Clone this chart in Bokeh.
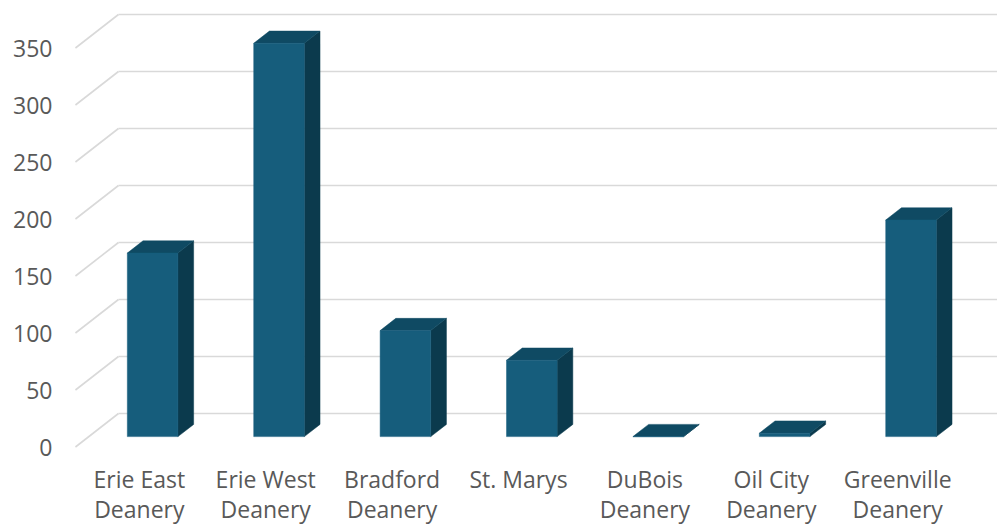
from bokeh.plotting import figure
from bokeh.models import Range1d, FixedTicker
from bokeh.core.properties import value
from bokeh.embed import file_html
from bokeh.resources import INLINE

# Data
deaneries = ["Erie East\nDeanery", "Erie West\nDeanery", "Bradford\nDeanery", "St. Marys",
             "DuBois\nDeanery", "Oil City\nDeanery", "Greenville\nDeanery"]
counts = [161, 345, 93, 67, 0, 3, 190]
y_ticks = [0, 50, 100, 150, 200, 250, 300, 350]

# Style
FONT = "Open Sans"
TEXT = "#595959"
GRID = "#d9d9d9"
FRONT = "#165d7c"
TOP = "#0f4a63"
SIDE = "#0b3a4d"

W, H = 997, 527
LEFT = 60                 # width reserved for the value axis
PX_X = 126.4              # pixels per category
PX_Y = 1.14               # pixels per unit of value
ZERO_PX = 446.5           # pixel row of value 0 on the front plane
FIRST_PX = 138.8          # pixel column of the first category on the front plane

# oblique depth: a full unit of depth shifts 43 px right and 33.5 px up
DX = 43 / PX_X
DY = 33.5 / PX_Y
BAR_FRONT, BAR_BACK = 0.31, 0.675
BAR_W = 50.6 / PX_X
WALL_LEFT = -0.505

x0 = -(FIRST_PX - LEFT) / PX_X
p = figure(width=W, height=H, output_backend="svg", toolbar_location=None,
           x_range=Range1d(x0, x0 + (W - LEFT) / PX_X),
           y_range=Range1d(-(H - ZERO_PX) / PX_Y, ZERO_PX / PX_Y),
           x_axis_type=None, min_border_left=LEFT, min_border_right=0,
           min_border_top=0, min_border_bottom=0)
p.outline_line_color = None
p.background_fill_color = "white"
p.border_fill_color = "white"
p.xgrid.visible = False
p.ygrid.visible = False

ax = p.yaxis[0]
ax.ticker = FixedTicker(ticks=y_ticks)
ax.axis_line_color = None
ax.major_tick_line_color = None
ax.minor_tick_line_color = None
ax.major_tick_out = 0
ax.major_label_standoff = 8
ax.major_label_text_font = FONT
ax.major_label_text_font_size = "23px"
ax.major_label_text_color = TEXT

# Side wall diagonals and back wall gridlines
n = len(counts)
p.segment(x0=[WALL_LEFT] * len(y_ticks), y0=y_ticks,
          x1=[WALL_LEFT + DX] * len(y_ticks), y1=[t + DY for t in y_ticks],
          line_color=GRID, line_width=1.6)
p.segment(x0=[WALL_LEFT + DX] * len(y_ticks), y0=[t + DY for t in y_ticks],
          x1=[n - 0.5 + DX] * len(y_ticks), y1=[t + DY for t in y_ticks],
          line_color=GRID, line_width=1.6)

# 3D bars: side, top and front faces
xf, yf = DX * BAR_FRONT, DY * BAR_FRONT
xb, yb = DX * BAR_BACK, DY * BAR_BACK
side_xs, side_ys, top_xs, top_ys = [], [], [], []
for i, v in enumerate(counts):
    l, r = i - BAR_W / 2, i + BAR_W / 2
    side_xs.append([r + xf, r + xb, r + xb, r + xf])
    side_ys.append([yf, yb, v + yb, v + yf])
    top_xs.append([l + xf, r + xf, r + xb, l + xb])
    top_ys.append([v + yf, v + yf, v + yb, v + yb])

p.patches(side_xs, side_ys, fill_color=SIDE, line_color=SIDE, line_width=0.5)
p.patches(top_xs, top_ys, fill_color=TOP, line_color=TOP, line_width=0.5)
p.quad(left=[i - BAR_W / 2 + xf for i in range(n)],
       right=[i + BAR_W / 2 + xf for i in range(n)],
       bottom=[yf] * n, top=[v + yf for v in counts],
       fill_color=FRONT, line_color=FRONT, line_width=0.5)

# Category labels, wrapped over two lines
line1 = [d.split("\n")[0] for d in deaneries]
line2 = [d.split("\n")[1] if "\n" in d else "" for d in deaneries]
for txt, base_px in ((line1, 478.0), (line2, 508.0)):
    p.text(x=list(range(n)), y=[(ZERO_PX - base_px) / PX_Y] * n, text=txt,
           text_font=value(FONT), text_font_size="23px", text_color=TEXT,
           text_align="center", text_baseline="alphabetic")

open("out.html", "w").write(file_html(p, INLINE))
